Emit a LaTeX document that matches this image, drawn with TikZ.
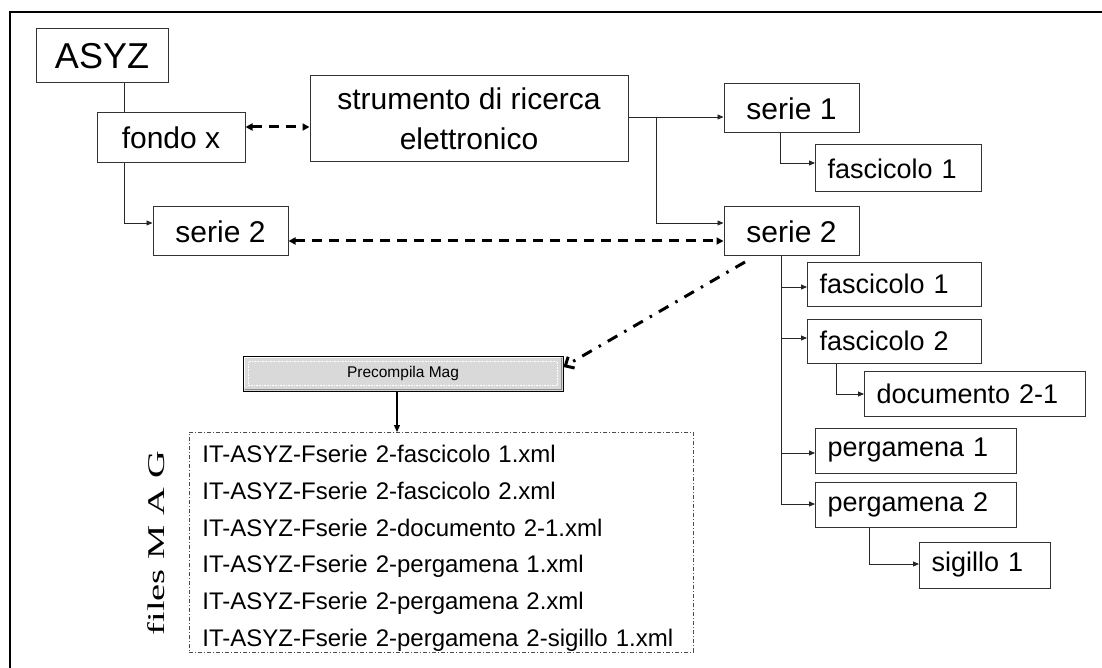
\documentclass[tikz,border=0pt]{standalone}
\usepackage{fontspec}
\usepackage{graphicx}
\setmainfont{Liberation Sans}
\newfontfamily\tms{Liberation Serif}
\usetikzlibrary{arrows.meta,calc}
\begin{document}
\begin{tikzpicture}[x=1pt,y=-1pt,
  box/.style={draw=black!80, line width=1pt, inner sep=0pt, align=center, font=\fontsize{30}{40}\selectfont},
  kid/.style={draw=black!80, line width=1pt, inner ysep=0pt, inner xsep=12pt, anchor=west, align=left, font=\fontsize{27}{32}\selectfont},
  plainline/.style={line width=0.9pt, draw=black!85},
  conn/.style={plainline, -{Triangle[length=6pt,width=5pt]}},
  dash2/.style={line width=3pt, dash pattern=on 10pt off 7pt, {Triangle[length=7pt,width=7pt]}-{Triangle[length=7pt,width=7pt]}},
  dashdot/.style={line width=3pt, dash pattern=on 11pt off 8pt on 2.5pt off 8pt, -{Straight Barb[length=7pt,width=13pt]}},
  filesbox/.style={draw=black!70, line width=0.8pt, dash pattern=on 4pt off 2pt on 1pt off 2pt, anchor=north west, inner xsep=13pt, inner ysep=0pt, align=left, font=\fontsize{24}{36.8}\selectfont}
]
\useasboundingbox (0,0) rectangle (1102,668);
% outer frame
\draw[line width=2pt] (1102,12) -- (10,12) -- (10,668);

% left tree
\node[box, minimum width=132pt, minimum height=54pt, font=\fontsize{36}{40}\selectfont] (asyz) at (102,56) {ASYZ};
\node[box, minimum width=148pt, minimum height=50pt] (fondo) at (171,138) {fondo x};
\node[box, minimum width=135pt, minimum height=49pt] (serieL) at (220.5,231.5) {serie 2};
\node[box, minimum width=318pt, minimum height=86pt] (strum) at (469,119) {strumento di ricerca\\elettronico};

% right tree
\node[box, minimum width=135pt, minimum height=49pt] (serie1) at (791.5,108.5) {serie 1};
\node[kid, text width=142pt, minimum height=47pt] (fasc1a) at (815,168.5) {fascicolo 1};
\node[box, minimum width=135pt, minimum height=49pt] (serieR) at (791.5,231.5) {serie 2};
\node[kid, text width=150pt, minimum height=44pt] (fasc1b) at (807,284) {fascicolo 1};
\node[kid, text width=150pt, minimum height=44pt] (fasc2) at (807,341) {fascicolo 2};
\node[kid, text width=197pt, minimum height=45pt] (doc21) at (864,393.5) {documento 2-1};
\node[kid, text width=177pt, minimum height=45pt] (perg1) at (815,450.5) {pergamena 1};
\node[kid, text width=177pt, minimum height=45pt] (perg2) at (815,504.5) {pergamena 2};
\node[kid, text width=107pt, minimum height=46pt] (sig1) at (919,565) {sigillo 1};

% connectors left
\coordinate (c1) at (124,223);
\draw[plainline] (asyz.south -| c1) -- (fondo.north -| c1);
\draw[conn] (fondo.south -| c1) -- (c1) -- (serieL.west |- c1);

% strumento to series
\coordinate (c2) at (656,117);
\coordinate (c3) at (656,223);
\draw[conn] (strum.east |- c2) -- (serie1.west |- c2);
\draw[conn] (c2) -- (c3) -- (serieR.west |- c3);

% serie 1 -> fascicolo 1
\coordinate (c4) at (780,163);
\draw[conn] (serie1.south -| c4) -- (c4) -- (fasc1a.west |- c4);

% serie 2 trunk
\coordinate (a1) at (781,287);
\coordinate (a2) at (781,338);
\coordinate (a3) at (781,453);
\coordinate (a4) at (781,504);
\draw[plainline] (serieR.south -| a1) -- (a4);
\draw[conn] (a1) -- (fasc1b.west |- a1);
\draw[conn] (a2) -- (fasc2.west |- a2);
\draw[conn] (a3) -- (perg1.west |- a3);
\draw[conn] (a4) -- (perg2.west |- a4);

\coordinate (c5) at (836,394);
\draw[conn] (fasc2.south -| c5) -- (c5) -- (doc21.west |- c5);
\coordinate (c6) at (869,564);
\draw[conn] (perg2.south -| c6) -- (c6) -- (sig1.west |- c6);

% dashed links
\coordinate (d1) at (0,127);
\draw[dash2] (fondo.east |- d1) -- (strum.west |- d1);
\coordinate (d2) at (0,241);
\draw[dash2] (serieL.east |- d2) -- (serieR.west |- d2);

% button
\node[draw=black, line width=0.8pt, fill=black!15, minimum width=320pt, minimum height=35pt, inner sep=0pt, font=\fontsize{15.5}{15.5}\selectfont] (button) at (403,373.5) {Precompila Mag};
\draw[white, line width=1.5pt] ([shift={(2pt,3pt)}]button.south west) |- ([shift={(-3pt,-2pt)}]button.north east);
\draw[black!45, line width=1.8pt] ([shift={(2pt,2pt)}]button.south west) -| ([shift={(-2pt,-2pt)}]button.north east);
\draw[white, line width=0.6pt, densely dotted] ([shift={(6pt,6pt)}]button.south west) rectangle ([shift={(-6pt,-6pt)}]button.north east);

% dash-dot arrow
\coordinate (s) at (745,262);
\draw[dashdot] (s) -- ([yshift=6.5pt]button.east);

% files box
\node[filesbox, text width=478pt, minimum height=220pt] (files) at (189,432) {\rule{0pt}{29pt}IT-ASYZ-Fserie 2-fascicolo 1.xml\\IT-ASYZ-Fserie 2-fascicolo 2.xml\\IT-ASYZ-Fserie 2-documento 2-1.xml\\IT-ASYZ-Fserie 2-pergamena 1.xml\\IT-ASYZ-Fserie 2-pergamena 2.xml\\IT-ASYZ-Fserie 2-pergamena 2-sigillo 1.xml};
\coordinate (b) at (397,0);
\draw[line width=1.2pt, -{Triangle[length=7pt,width=6pt]}] (button.south -| b) -- (files.north -| b);

\node[rotate=90, inner sep=0pt, font=\tms\fontsize{24}{24}\selectfont] (mag) at (156,543) {\scalebox{1.6}[1]{files M A G}};
\end{tikzpicture}
\end{document}
